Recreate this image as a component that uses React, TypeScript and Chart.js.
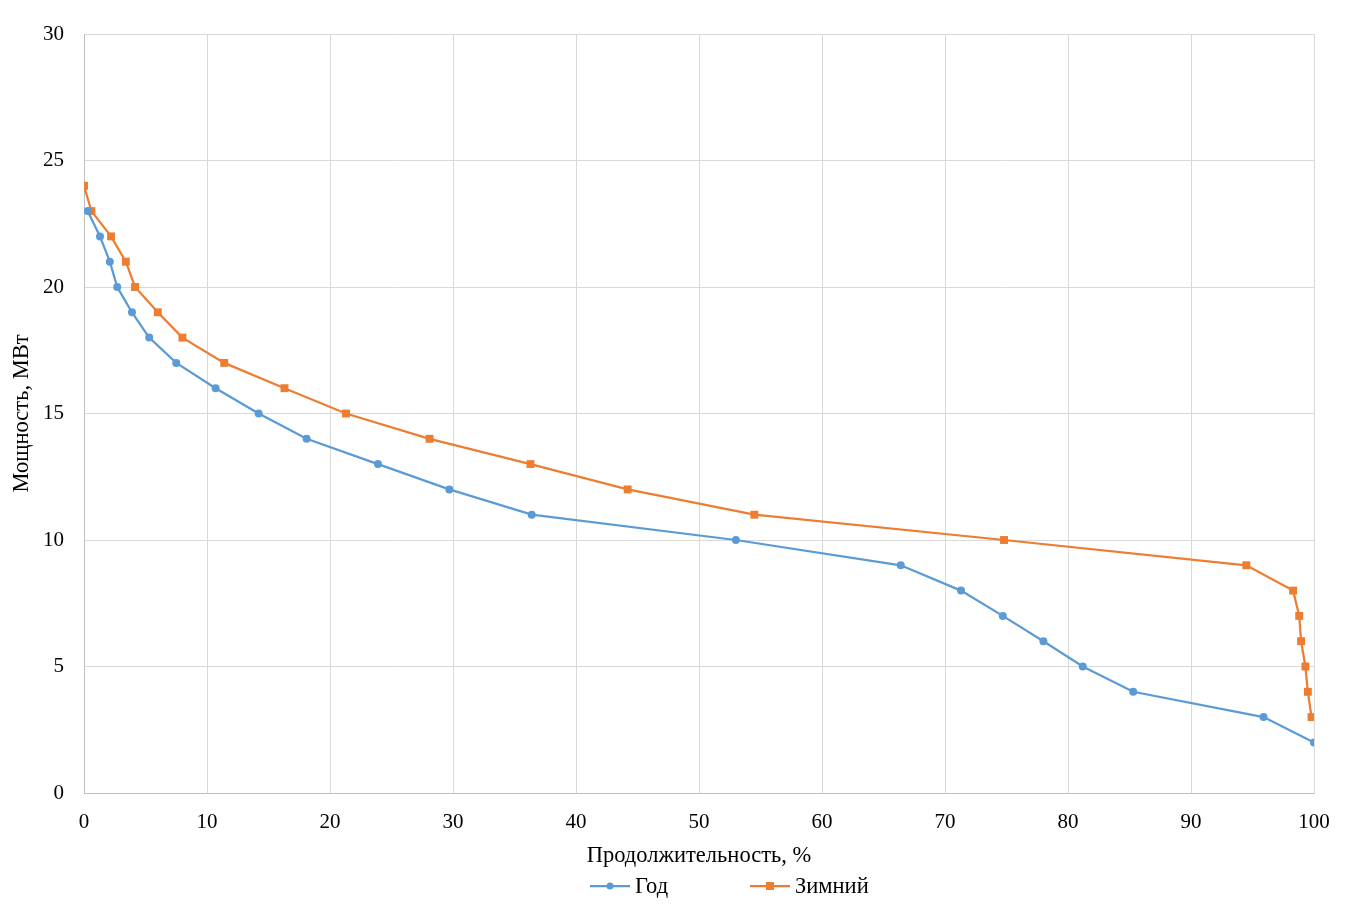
import React, { useEffect, useRef } from "react";
import { Chart, registerables } from "chart.js";

Chart.register(...registerables);

const yearX = [0.3, 1.3, 2.1, 2.7, 3.9, 5.3, 7.5, 10.7, 14.2, 18.1, 23.9, 29.7, 36.4, 53.0, 66.4, 71.3, 74.7, 78.0, 81.2, 85.3, 95.9, 100];
const yearY = [23, 22, 21, 20, 19, 18, 17, 16, 15, 14, 13, 12, 11, 10, 9, 8, 7, 6, 5, 4, 3, 2];
const winterX = [0, 0.6, 2.2, 3.4, 4.15, 6.0, 8.0, 11.4, 16.3, 21.3, 28.1, 36.3, 44.2, 54.5, 74.8, 94.5, 98.3, 98.8, 98.95, 99.3, 99.5, 99.8];
const winterY = [24, 23, 22, 21, 20, 19, 18, 17, 16, 15, 14, 13, 12, 11, 10, 9, 8, 7, 6, 5, 4, 3];
const seriesNames = ["Год", "Зимний"];
const xTitle = "Продолжительность, %";
const yTitle = "Мощность, МВт";

const BLUE = "#5B9BD5";
const ORANGE = "#ED7D31";
const FONT = "'Liberation Serif', 'Times New Roman', serif";

const legendPlugin = {
  id: "customLegend",
  afterDraw(chart: any) {
    const ctx = chart.ctx;
    const y = 886;
    const items = [
      { name: seriesNames[0], color: BLUE, style: "circle", x: 590 },
      { name: seriesNames[1], color: ORANGE, style: "rect", x: 750 },
    ];
    ctx.save();
    ctx.font = `22.5px ${FONT}`;
    ctx.textBaseline = "middle";
    ctx.textAlign = "left";
    for (const it of items) {
      ctx.strokeStyle = it.color;
      ctx.lineWidth = 2.25;
      ctx.beginPath();
      ctx.moveTo(it.x, y);
      ctx.lineTo(it.x + 40, y);
      ctx.stroke();
      ctx.fillStyle = it.color;
      if (it.style === "circle") {
        ctx.beginPath();
        ctx.arc(it.x + 20, y, 3.5, 0, Math.PI * 2);
        ctx.fill();
      } else {
        ctx.fillRect(it.x + 16, y - 4, 8, 8);
      }
      ctx.fillStyle = "#000";
      ctx.fillText(it.name, it.x + 45, y + 1);
    }
    ctx.restore();
  },
};

export default function App() {
  const ref = useRef<HTMLCanvasElement>(null);
  useEffect(() => {
    if (!ref.current) return;
    const toPts = (xs: number[], ys: number[]) => xs.map((x, i) => ({ x, y: ys[i] }));
    const chart = new Chart(ref.current, {
      type: "scatter",
      data: {
        datasets: [
          {
            label: seriesNames[0],
            data: toPts(yearX, yearY),
            showLine: true,
            borderColor: BLUE,
            backgroundColor: BLUE,
            borderWidth: 2.25,
            pointStyle: "circle",
            pointRadius: 4,
            pointBorderWidth: 0,
            tension: 0,
          },
          {
            label: seriesNames[1],
            data: toPts(winterX, winterY),
            showLine: true,
            borderColor: ORANGE,
            backgroundColor: ORANGE,
            borderWidth: 2.25,
            pointStyle: "rect",
            pointRadius: 5.6,
            pointBorderWidth: 0,
            tension: 0,
          },
        ],
      },
      options: {
        responsive: false,
        animation: false,
        layout: { padding: { left: 0, right: 53, top: 34, bottom: 44 } },
        plugins: { legend: { display: false }, tooltip: { enabled: false } },
        scales: {
          x: {
            type: "linear",
            min: 0,
            max: 100,
            ticks: { stepSize: 10, color: "#000", font: { family: FONT, size: 21 }, padding: 17, maxRotation: 0 },
            grid: { color: "#D9D9D9", drawTicks: false, lineWidth: 1 },
            border: { color: "#BFBFBF" },
            title: { display: true, text: xTitle, color: "#000", font: { family: FONT, size: 22.5 }, padding: { top: 0, bottom: 0 } },
            afterFit: (s: any) => { s.height = 77; },
          },
          y: {
            type: "linear",
            min: 0,
            max: 30,
            ticks: { stepSize: 5, color: "#000", font: { family: FONT, size: 21 }, padding: 20 },
            grid: { color: "#D9D9D9", drawTicks: false, lineWidth: 1 },
            border: { color: "#BFBFBF" },
            title: { display: true, text: yTitle, color: "#000", font: { family: FONT, size: 22.5 }, padding: { top: 9, bottom: 0 } },
            afterFit: (s: any) => { s.width = 84; },
          },
        },
      },
      plugins: [legendPlugin],
    });
    return () => chart.destroy();
  }, []);
  return (
    <div style={{ position: "fixed", left: 0, top: 0, width: 1367, height: 914, background: "#fff" }}>
      <canvas ref={ref} width={1367} height={914} />
    </div>
  );
}
